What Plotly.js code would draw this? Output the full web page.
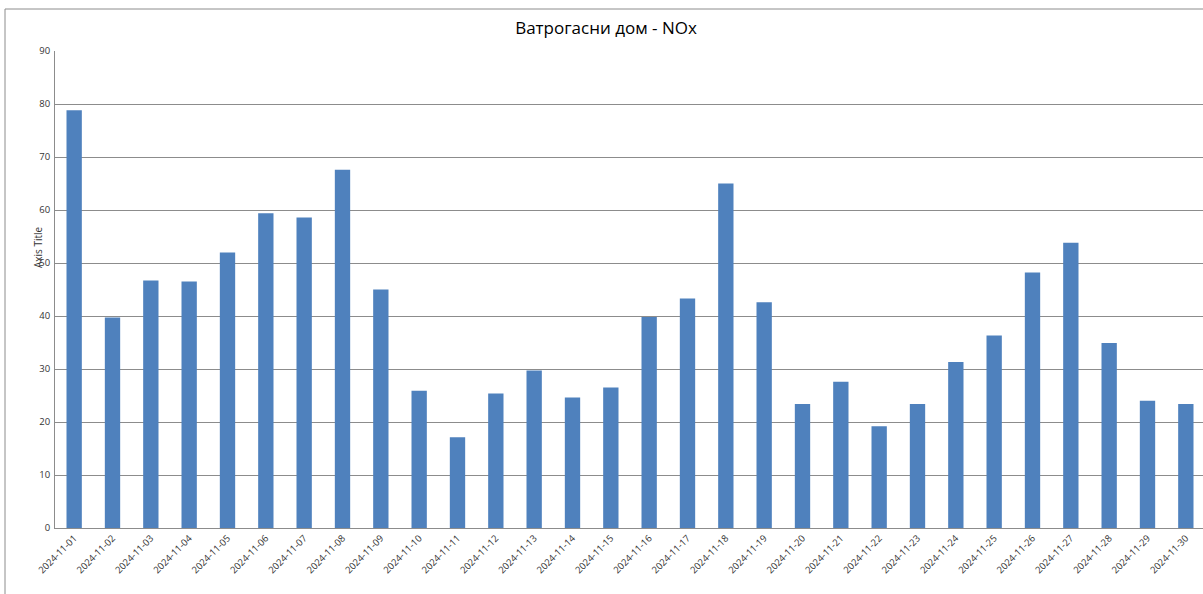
<!DOCTYPE html>
<html>
<head>
<meta charset="utf-8">
<script src="https://cdn.plot.ly/plotly-3.0.1.min.js"></script>
<style>
html,body{margin:0;padding:0;overflow:hidden;background:#fff;}
#chart{width:1210px;height:594px;}
</style>
</head>
<body>
<div id="chart"></div>
<script>
const dates = ["2024-11-01","2024-11-02","2024-11-03","2024-11-04","2024-11-05","2024-11-06","2024-11-07","2024-11-08","2024-11-09","2024-11-10",
"2024-11-11","2024-11-12","2024-11-13","2024-11-14","2024-11-15","2024-11-16","2024-11-17","2024-11-18","2024-11-19","2024-11-20",
"2024-11-21","2024-11-22","2024-11-23","2024-11-24","2024-11-25","2024-11-26","2024-11-27","2024-11-28","2024-11-29","2024-11-30"];
const noxValues = [78.8,39.7,46.7,46.5,52.0,59.4,58.6,67.6,45.0,25.9,
17.1,25.4,29.7,24.6,26.5,39.8,43.3,65.0,42.6,23.4,
27.6,19.2,23.4,31.3,36.3,48.2,53.8,34.9,24.0,23.4];
const yTicks = [0,10,20,30,40,50,60,70,80,90];
const chartTitle = "Ватрогасни дом - NOx";
const axisTitle = "Axis Title";

const fontFam = "'Open Sans', 'Noto Sans', sans-serif";
const trace = {
  type: 'bar',
  x: dates,
  y: noxValues,
  marker: {color: '#4f81bd', line: {width: 0}},
  hoverinfo: 'x+y'
};
const layout = {
  width: 1210,
  height: 594,
  margin: {l: 55, r: 5, t: 51, b: 66, pad: 0},
  paper_bgcolor: '#fff',
  plot_bgcolor: '#fff',
  bargap: 0.6,
  showlegend: false,
  title: {text: chartTitle, font: {family: fontFam, size: 17, color: '#000'}, x: 606 / 1210, xref: 'container', xanchor: 'center', y: 0.953, yref: 'container', yanchor: 'middle'},
  xaxis: {
    type: 'category',
    tickangle: -45,
    tickfont: {family: fontFam, size: 9.5, color: '#333'},
    showgrid: false,
    showline: true,
    linecolor: '#8c8c8c',
    linewidth: 1,
    ticks: '',
    automargin: false
  },
  yaxis: {
    range: [0, 90],
    tickvals: yTicks,
    tickfont: {family: fontFam, size: 9.5, color: '#333'},
    showgrid: true,
    gridcolor: '#8c8c8c',
    gridwidth: 1,
    zeroline: false,
    showline: true,
    linecolor: '#8c8c8c',
    linewidth: 1,
    ticks: '',
    ticklabelstandoff: 2,
    automargin: false
  },
  annotations: [{
    text: axisTitle,
    xref: 'paper', yref: 'paper',
    x: (38 - 55) / 1150, y: (528 - 247) / 477,
    showarrow: false, textangle: -90,
    xanchor: 'center', yanchor: 'middle',
    font: {family: fontFam, size: 10, color: '#333'}
  }],
  shapes: [{
    type: 'rect', xref: 'paper', yref: 'paper',
    x0: (5 - 55) / 1150, x1: (1209 - 55) / 1150,
    y0: (528 - 600) / 477, y1: (528 - 9) / 477,
    line: {color: '#8c8c8c', width: 1},
    fillcolor: 'rgba(0,0,0,0)',
    layer: 'above'
  }]
};
Plotly.newPlot('chart', [trace], layout, {displayModeBar: false, staticPlot: true});
</script>
</body>
</html>
